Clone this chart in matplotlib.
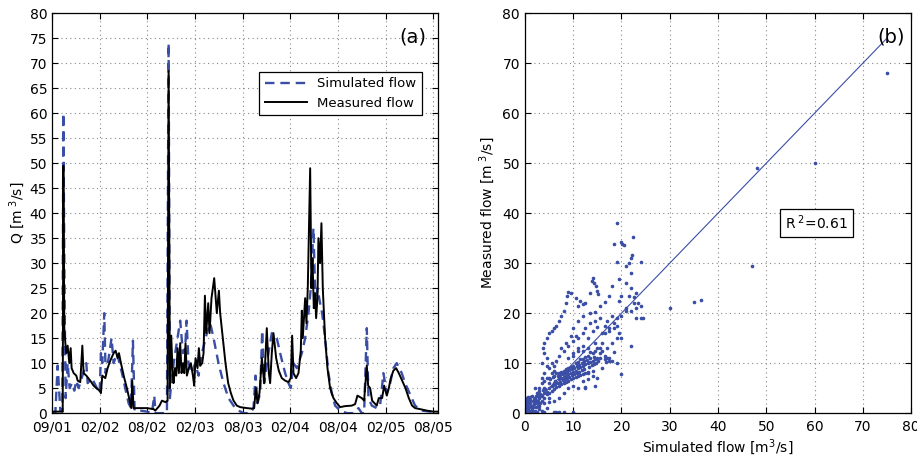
import numpy as np
import matplotlib
matplotlib.use("Agg")
import matplotlib.pyplot as plt

# time axis in months since 09/01
tick_months = [0, 6, 12, 18, 24, 30, 36, 42, 48]
tick_labels = ["09/01", "02/02", "08/02", "02/03", "08/03", "02/04", "08/04", "02/05", "08/05"]

meas_t = [0.0, 1.35, 1.43, 1.55, 1.68, 1.8, 1.97, 2.18, 2.35, 2.47, 2.73, 3.06, 3.23, 3.56, 3.82,
          3.98, 4.32, 4.82, 5.24, 5.58, 6.0, 6.16, 6.33, 6.71, 7.0, 7.34, 7.76, 8.01, 8.26, 8.43,
          8.68, 9.1, 9.43, 9.77, 9.98, 10.1, 10.27, 11.0, 11.95, 12.79, 13.0, 13.54, 13.84, 14.26,
          14.55, 14.68, 14.84, 15.01, 15.18, 15.3, 15.47, 15.64, 15.81, 15.97, 16.14, 16.31, 16.48,
          16.65, 16.81, 16.98, 17.23, 17.48, 17.74, 17.9, 18.07, 18.32, 18.49, 18.66, 18.91, 19.08,
          19.25, 19.41, 19.67, 19.83, 20.08, 20.42, 20.75, 21.01, 21.17, 21.51, 21.84, 22.18, 22.52,
          22.85, 23.27, 23.69, 24.53, 25.16, 25.45, 25.66, 25.87, 26.12, 26.42, 26.71, 27.04, 27.3,
          27.46, 27.67, 27.88, 28.22, 28.55, 28.93, 29.35, 29.77, 30.06, 30.23, 30.4, 30.73, 31.03,
          31.32, 31.45, 31.57, 31.87, 32.03, 32.2, 32.5, 32.66, 32.79, 32.96, 33.12, 33.25, 33.42,
          33.54, 33.75, 33.92, 34.09, 34.38, 34.68, 35.01, 35.43, 35.85, 36.27, 36.9, 37.74, 38.16,
          38.45, 39.0, 39.29, 39.63, 39.8, 40.05, 40.3, 40.88, 41.14, 41.56, 41.81, 42.15, 42.4,
          42.65, 42.98, 43.32, 43.66, 44.08, 44.5, 44.92, 45.33, 45.71, 46.34, 47.18, 48.01, 48.55]
meas_q = [0.3, 0.3, 49.5, 17, 14, 12, 13.5, 10, 13, 9, 8, 7.5, 6.5, 6.2, 13.5,
          8, 7.5, 6.5, 5.5, 5, 4.5, 4, 7.5, 7, 9, 10.5, 12, 12.5, 11, 12,
          10, 7, 5, 2.5, 1, 6.5, 1, 1, 1, 0.8, 0.5, 1.5, 2.5, 2.2,
          2.5, 68.5, 5, 15.5, 8, 6, 9, 7.5, 13, 8, 14, 8, 10,
          8, 14, 7.5, 9, 10, 7.5, 5.5, 11, 9, 13, 9.5, 10, 12,
          23.5, 16, 22, 16, 23, 27, 20, 24.5, 20, 15, 10, 6, 4,
          2.5, 1.5, 1.2, 1, 0.9, 1, 5, 2, 4, 11, 6, 17, 8,
          6, 12, 16, 11, 8.5, 7, 6.5, 6.2, 7, 15.5, 8, 7, 8,
          12.5, 20.5, 15, 23, 18, 25, 49, 25, 31, 21, 24, 19, 23,
          35, 30, 38, 25, 15, 9, 5, 3, 2, 1.2, 1.4, 1.5, 1.8,
          3.5, 3, 2.5, 9.5, 5.5, 5, 2.5, 1.5, 3, 3, 5.5, 3.5, 5,
          7, 8.5, 9, 8, 6.5, 5, 3, 1.5, 1, 0.8, 0.5, 0.3, 0.3]

sim_t = [0, 0.42, 0.71, 1.05, 1.3, 1.43, 1.6, 1.72, 1.97, 2.22, 2.52, 2.81, 3.06, 3.35, 4.32,
         4.49, 5.03, 5.66, 6.0, 6.16, 6.33, 6.58, 6.75, 7.13, 7.5, 7.76, 8.18, 8.81, 9.22, 9.64,
         9.94, 10.19, 10.4, 11.11, 11.95, 12.58, 12.87, 13.04, 14.47, 14.68, 14.84, 15.14, 15.51,
         16.14, 16.48, 16.77, 16.94, 17.19, 17.61, 18.03, 18.45, 18.87, 19.5, 19.92, 20.34, 20.96,
         21.59, 22.22, 22.85, 23.48, 24.11, 24.95, 25.37, 25.62, 25.87, 26.21, 26.46, 26.71, 27.25,
         27.67, 28.3, 28.72, 29.35, 29.77, 30.06, 30.4, 30.82, 31.45, 31.87, 32.29, 32.58, 32.91,
         33.17, 33.42, 33.75, 34.01, 34.38, 34.8, 35.22, 35.64, 36.27, 37.11, 37.95, 38.58, 39.0,
         39.29, 39.63, 39.84, 40.26, 40.88, 41.3, 41.72, 42.15, 42.57, 42.98, 43.4, 44.03, 44.45,
         45.29, 45.71, 46.55, 47.6, 48.55]
sim_q = [0, 0, 9.5, 0.5, 0.3, 60, 20, 3, 10, 5, 6, 4.5, 6.5, 5, 10,
         6, 7, 5, 4, 12, 10, 20, 8, 11, 15, 10, 12, 8, 5, 2,
         1, 14.5, 0.5, 0.5, 0.3, 0, 3.5, 0, 0, 74, 3, 8, 12,
         18.5, 12, 13, 18.5, 10, 8, 10, 7.5, 12, 16, 18, 15, 10,
         6, 3, 1.5, 0.5, 0, 0, 1, 7.5, 2, 4, 16.5, 6, 12,
         16, 15, 12, 8, 6, 5, 10, 9, 12, 15, 20, 25, 37,
         22, 25, 22, 20, 15, 8, 4, 1.5, 0.5, 0, 0, 1, 0,
         0, 17, 3, 1.5, 1, 1.5, 8, 4, 6, 9, 10, 8, 6,
         3, 1.5, 0.5, 0.3, 0.2]

# scatter: simulated vs measured
pts = [
    (75, 68), (60, 50), (48, 49), (47, 29.5), (36.5, 22.7), (35, 22.3), (30, 21), (24.5, 19),
    (22, 13.5), (20, 7.8), (20, 15),
    (19, 38), (22.3, 35.3), (19.8, 34.3), (18.5, 33.8), (20.5, 33.7), (20.2, 33.8), (22.2, 31.6),
    (22, 31), (21.5, 30), (19, 30.3), (24, 30.3), (21, 29.5), (22, 28), (19.5, 26.8), (21, 26),
    (22, 25), (18, 25.5), (20, 23.5), (21.5, 23.5), (22.5, 23.3), (23, 24), (19.5, 22.5),
    (22.5, 22), (23.5, 22), (24, 21.5), (23, 21), (21, 21), (22, 20.5), (23, 19), (24, 19),
    (14, 27), (13.8, 26.5), (14.3, 26), (14.8, 25.5), (15, 24.5), (15.2, 23.8), (13.5, 24),
    (12.5, 22), (11.5, 22.5), (10.5, 23), (9.5, 24), (9, 24.2), (8.8, 23.5), (8.5, 22), (8, 20.5),
    (7.5, 19.5), (7, 18.5), (6.5, 17.5), (6, 17), (5.5, 16.5), (5, 16), (4.5, 15), (4, 14),
    (3.8, 13), (4, 12), (4.5, 11), (3.5, 10), (16.5, 22.3), (17.5, 23.5), (15.5, 21.5), (12, 21.8),
    (11, 21.5),
    (8, 12.5), (9, 13.5), (10, 14.5), (10.5, 15.5), (11, 15), (12, 16), (12.5, 17), (13.5, 18),
    (14.5, 18.5), (15.5, 19), (16.5, 17.5), (17, 18.5), (18, 19.5), (19, 19), (20, 19.5),
    (21, 20.5), (17.5, 17), (18.5, 18), (16, 16), (15, 17.2), (14, 16.5), (13, 15), (12, 13.5),
    (11, 12.5), (10, 11.5), (9, 11), (13.5, 20), (14.5, 20.2), (12, 19.5), (11, 18.5), (10, 17),
    (9.5, 15.5), (8.5, 14), (7.5, 13), (7, 11.5), (6.5, 10.5), (6, 9.5),
    (15.5, 11), (16.5, 10.8), (17.5, 10.5), (18.5, 12.3), (19, 10), (16, 9), (14, 8.5), (13, 8),
    (12.5, 5), (14.5, 5.5), (15, 7), (17, 11), (16.8, 10.2), (17.5, 11), (18, 10.5),
    (3, 3), (3.5, 3.5), (4, 4), (4.5, 4.2), (5, 5), (5.5, 5.5), (6, 6), (6.5, 6.2), (7, 6.8),
    (7.5, 7), (8, 7.2), (8.5, 7.5), (9, 7.8), (9.5, 8), (10, 8.3), (10.5, 8.5), (11, 9),
    (11.5, 9.3), (12, 9.5), (12.5, 9.8), (13, 10), (13.5, 10.2), (14, 10.5), (14.5, 10.8), (15, 11),
    (4, 5), (5, 6), (6, 7.5), (7, 8), (8, 8.5), (9, 9), (10, 9.5), (11, 10.2), (12, 10.8),
    (13, 11.5), (6.5, 8), (7.5, 8.2), (8.5, 8.8), (9.5, 9.2), (10.5, 10), (11.5, 10.8), (12.5, 11.2),
    (4, 3), (5, 4), (6, 4.8), (7, 5.5), (8, 6), (9, 6.5), (10, 7), (11, 7.5), (12, 7.8), (13, 8.2),
    (6.5, 5.2), (7.5, 5.8), (8.5, 6.2), (9.5, 6.8), (10.5, 7.2), (11.5, 7.6), (12.5, 8),
    (5.5, 4.5), (4.5, 3.8),
    (6, 2.5), (7, 3), (8, 4), (9, 5), (10, 5.5), (11, 5), (12, 6.5), (13, 6.8), (14, 7.5),
    (12.5, 5.2), (3, 1.5), (4, 2), (5, 3), (5, 2.3), (4.5, 1), (3.5, 0.5),
    (4, 0.3), (6, 0.2), (7, 0.2), (8, 0.2), (10, 0.3), (6.5, 0.2),
    (0, 0), (0.2, 0.5), (0.3, 1), (0.5, 1.5), (0.2, 2), (0.4, 2.5), (0.1, 3), (0.6, 3.2),
    (0.8, 2.8), (1, 2), (1.2, 1.5), (1.5, 1), (1, 0.5), (0.5, 0.3), (1.8, 0.2), (2, 0.5),
    (2.2, 1.2), (2.5, 2), (2.8, 2.5), (2, 3), (1.5, 3.5), (1, 3.2), (0.3, 0.1), (0.7, 0.8),
    (1.3, 0.2), (2.5, 0.3), (3, 0.8), (1.6, 2.4), (2.3, 2.2), (0.9, 1.2), (1.1, 2.7), (0.5, 2.2),
    (0.2, 1.5), (0.1, 0.8), (0.05, 2.5), (0.4, 3.0), (1.9, 1.8), (2.6, 1.5), (3.2, 2), (2.9, 3.2),
    (3.5, 2.5), (1.4, 0.7), (0.6, 1.8), (2.1, 2.6), (1.7, 1.3),
    (3, 5), (3.5, 6), (4, 6.5), (4.5, 7), (2.5, 4), (3, 4.5), (5, 7), (5.5, 8), (6, 8.5),
    (3.5, 7), (2, 5), (4, 8), (5, 9), (5.5, 10), (4.5, 9.5),
    (10, 12), (11, 13), (12, 12.5), (13, 13), (14, 12), (15, 13), (14.5, 14), (16, 14),
    (15.5, 13), (13.5, 12.2), (16, 12.5), (17, 13), (18, 14), (19, 15), (19.5, 16), (16.5, 16),
    (17.5, 16.5), (18.5, 17), (19, 17.5),
    (5.2, 6.8), (5.8, 7.2), (6.2, 6.5), (6.8, 7.4), (7.2, 7.6), (7.8, 7.9), (8.2, 8), (8.8, 8.2),
    (9.2, 8.6), (9.8, 8.9), (10.2, 9.1), (10.8, 9.4), (11.2, 9.7), (11.8, 10.1), (12.2, 10.4),
    (12.8, 10.7), (13.2, 9.2), (13.8, 9.6), (14.2, 9.9), (14.8, 10.1), (15.2, 10.4), (6.8, 6.1),
    (7.2, 6.3), (7.8, 6.6), (8.2, 6.9), (8.8, 7.1), (9.2, 7.3), (9.8, 7.6), (10.2, 7.8),
    (10.8, 8.1), (11.2, 8.3), (11.8, 8.6), (12.2, 8.8), (5.8, 5.7), (6.2, 5.9), (3.8, 4.6),
    (4.2, 4.8), (2.8, 3.6), (3.2, 3.9), (2.2, 3.4), (1.8, 2.8), (14.5, 12.5), (15.5, 12),
    (16.5, 11.5), (13.5, 11), (14.2, 11.3),
]
sim_flow = [p[0] for p in pts]
meas_flow = [p[1] for p in pts]
fit_x = [0, 75]
fit_y = [0, 75]

blue = "#3a4ea6"
plt.rcParams["font.family"] = "DejaVu Sans"
plt.rcParams["font.size"] = 10

fig = plt.figure(figsize=(9.17, 4.58), dpi=100)
ax1 = fig.add_axes([0.0567, 0.098, 0.421, 0.873])
ax2 = fig.add_axes([0.5725, 0.098, 0.421, 0.873])

for ax in (ax1, ax2):
    ax.grid(True, color="#888888", linestyle=(0, (1, 3)), linewidth=0.8)
    ax.tick_params(direction="in", top=True, right=True, length=4, labelsize=10)
    ax.tick_params(axis="x", pad=5)
    ax.set_axisbelow(True)
    for s in ax.spines.values():
        s.set_linewidth(0.9)

ax1.plot(sim_t, sim_q, color=blue, linestyle=(0, (4, 2.5)), linewidth=1.7, label="Simulated flow")
ax1.plot(meas_t, meas_q, color="black", linewidth=1.4, label="Measured flow")
ax1.set_xlim(0, 48.6)
ax1.set_ylim(0, 80)
ax1.set_xticks(tick_months)
ax1.set_xticklabels(tick_labels)
ax1.set_yticks(np.arange(0, 81, 5))
ax1.set_ylabel("Q [m$^{\\ 3}$/s]", labelpad=2)
ax1.text(0.97, 0.965, "(a)", transform=ax1.transAxes, ha="right", va="top", fontsize=14)
leg = ax1.legend(loc="upper right", bbox_to_anchor=(0.975, 0.87), fancybox=False,
                 edgecolor="black", framealpha=1, fontsize=9.5, handlelength=3.2)
leg.get_frame().set_linewidth(0.9)

ax2.plot(fit_x, fit_y, color=blue, linewidth=0.8)
ax2.plot(sim_flow, meas_flow, ".", color=blue, markersize=3.2)
ax2.set_xlim(0, 80)
ax2.set_ylim(0, 80)
ax2.set_xticks(np.arange(0, 81, 10))
ax2.set_yticks(np.arange(0, 81, 10))
ax2.set_xlabel("Simulated flow [m$^3$/s]", labelpad=2)
ax2.set_ylabel("Measured flow [m$^{\\ 3}$/s]", labelpad=4)
ax2.text(0.985, 0.965, "(b)", transform=ax2.transAxes, ha="right", va="top", fontsize=14)
ax2.text(60.4, 38, "R$^{\\ 2}$=0.61", ha="center", va="center", fontsize=10,
         bbox=dict(boxstyle="square,pad=0.35", facecolor="white", edgecolor="black", linewidth=0.9))

fig.savefig("out.png", dpi=100)
